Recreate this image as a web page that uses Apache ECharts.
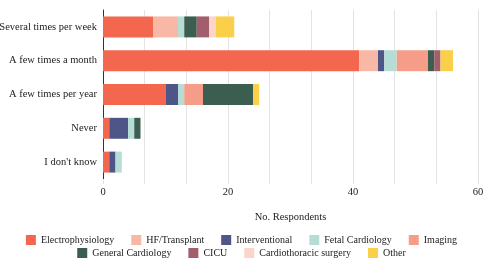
<!DOCTYPE html>
<html><head><meta charset="utf-8">
<script src="https://cdn.jsdelivr.net/npm/echarts@6/dist/echarts.min.js"></script>
<style>html,body{margin:0;padding:0;background:#fff}#c{width:483px;height:259px}</style>
</head><body><div id="c"></div>
<script>
const categories = ["Several times per week","A few times a month","A few times per year","Never","I don't know"];
const seriesNames = ["Electrophysiology","HF/Transplant","Interventional","Fetal Cardiology","Imaging","General Cardiology","CICU","Cardiothoracic surgery","Other"];
const electrophysiology = [8, 41, 10, 1, 1];
const hfTransplant      = [4, 3, 0, 0, 0];
const interventional    = [0, 1, 2, 3, 1];
const fetalCardiology   = [1, 2, 1, 1, 1];
const imaging           = [0, 5, 3, 0, 0];
const generalCardiology = [2, 1, 8, 1, 0];
const cicu              = [2, 1, 0, 0, 0];
const cardiothoracic    = [1, 0, 0, 0, 0];
const other             = [3, 2, 1, 0, 0];
const colors = ["#F2674E","#F9B8A6","#4E5687","#B5DDD5","#F59D88","#3C5E50","#A35E6D","#FAD5C8","#FAD04A"];
const xTicks = [0, 20, 40, 60];

const values = [electrophysiology,hfTransplant,interventional,fetalCardiology,imaging,generalCardiology,cicu,cardiothoracic,other];
const FF = 'Liberation Serif';
function legendCfg(top, names){
  return {top:top,left:'center',padding:0,data:names,itemWidth:10,itemHeight:10,itemGap:17,icon:'rect',
    textStyle:{fontFamily:FF,fontSize:10,color:'#222'}};
}
const chart = echarts.init(document.getElementById('c'));
chart.setOption({
  animation:false,
  color: colors,
  grid:{left:103,right:5,top:10,bottom:80,containLabel:false,outerBoundsMode:'none'},
  xAxis:{type:'value',min:xTicks[0],max:xTicks[xTicks.length-1],interval:20,
    name:'No. Respondents',nameLocation:'middle',nameGap:33,
    nameTextStyle:{fontFamily:FF,fontSize:10.5,color:'#222'},
    axisLine:{show:false},
    axisTick:{show:true,length:5,lineStyle:{color:'#e3e3e3'}},
    minorTick:{show:true,splitNumber:3,length:5,lineStyle:{color:'#e3e3e3'}},
    splitLine:{show:true,lineStyle:{color:'#e3e3e3'}},
    minorSplitLine:{show:true,lineStyle:{color:'#e3e3e3'}},
    axisLabel:{fontFamily:FF,fontSize:10.5,color:'#222',margin:8}},
  yAxis:{type:'category',data:categories,inverse:true,
    axisLine:{show:true,lineStyle:{color:'#333'}},
    axisTick:{show:false},
    axisLabel:{fontFamily:FF,fontSize:10.5,color:'#222',margin:6}},
  legend:[ legendCfg(235, seriesNames.slice(0,5)), legendCfg(248, seriesNames.slice(5)) ],
  series: seriesNames.map((n,i)=>({name:n,type:'bar',stack:'a',barWidth:'62%',data:values[i]}))
});
</script></body></html>
